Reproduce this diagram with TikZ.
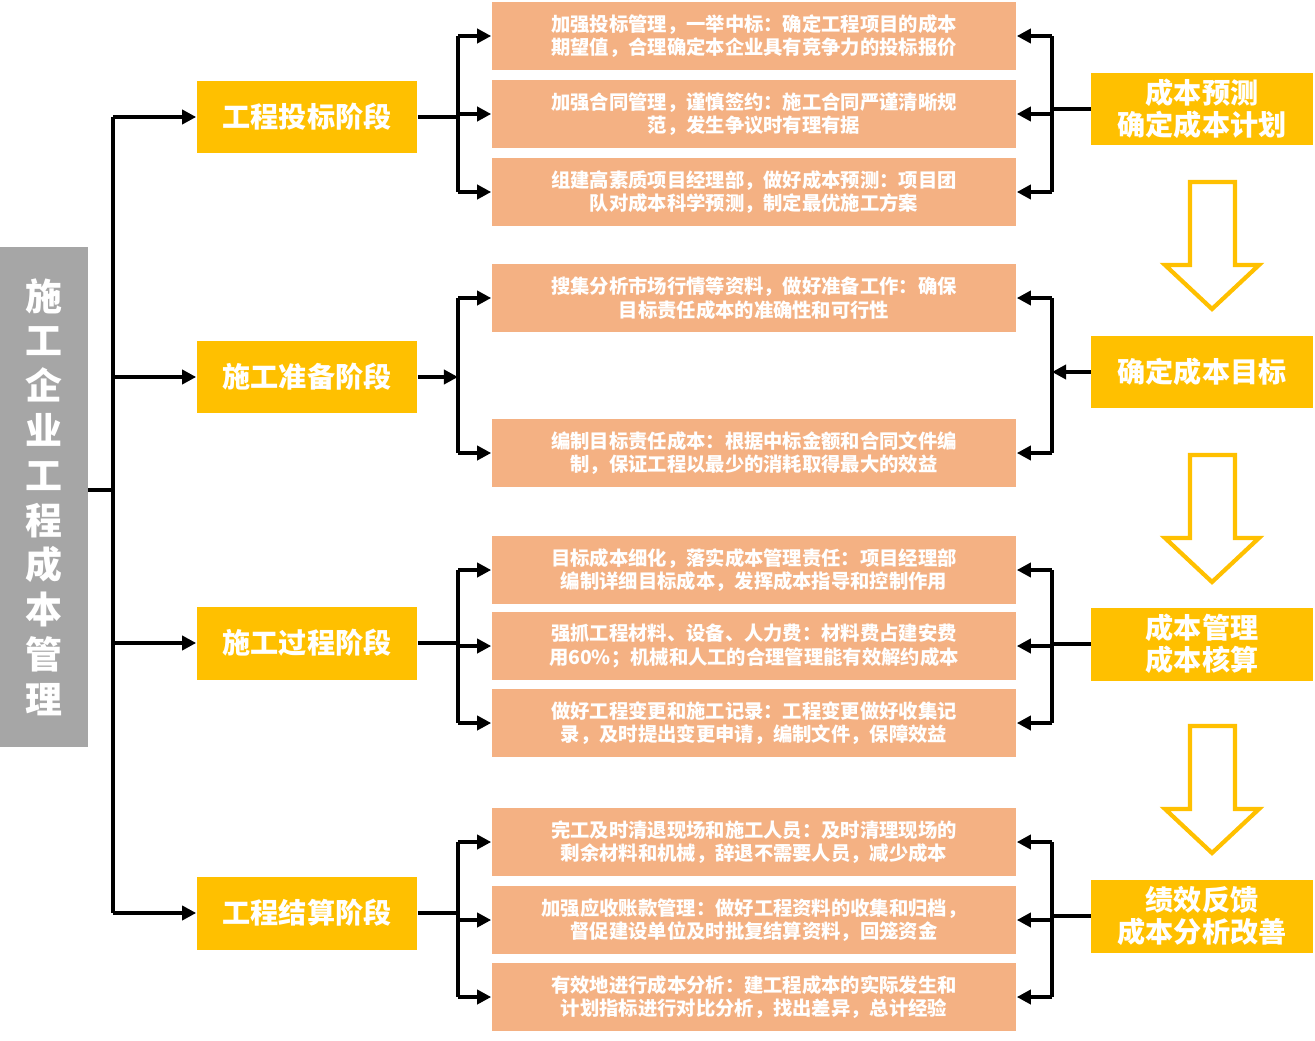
\documentclass[tikz,border=0pt]{standalone}
\usepackage{fontspec}
\setmainfont{Noto Sans CJK SC}
\usetikzlibrary{arrows.meta}
\definecolor{stagey}{HTML}{FFC000}
\definecolor{itemo}{HTML}{F4B183}
\definecolor{sidegray}{HTML}{A6A6A6}
\tikzset{
  stagebox/.style = {fill=stagey, text=white, minimum width=4.42cm, minimum height=1.46cm,
                     font=\fontsize{16}{19}\selectfont\bfseries},
  itembox/.style  = {fill=itemo, text=white, minimum width=10.5cm, minimum height=1.36cm,
                     align=center, font=\fontsize{11}{13.5}\selectfont\bfseries},
  goalbox/.style  = {fill=stagey, text=white, minimum width=4.44cm, minimum height=1.46cm,
                     align=center, font=\fontsize{16}{18.5}\selectfont\bfseries},
  link/.style     = {line width=2.2pt, black},
  arr/.style      = {link, -{Triangle[length=8pt,width=8pt]}},
  hollow/.style   = {line width=2.4pt, draw=stagey, line join=miter}
}
\begin{document}
\begin{tikzpicture}[x=0.02cm, y=-0.02cm]
  \useasboundingbox (0,0) rectangle (1315,1041);
  % the left title bar
  \node [fill=sidegray, text=white, minimum width=1.76cm, minimum height=10cm, align=center,
         font=\fontsize{21}{25.5}\selectfont\bfseries] (title) at (44,497)
        {施\\工\\企\\业\\工\\程\\成\\本\\管\\理};
  % the four stages
  \node [stagebox] (s1) at (307,117) {工程投标阶段};
  \node [stagebox] (s2) at (307,377) {施工准备阶段};
  \node [stagebox] (s3) at (307,643) {施工过程阶段};
  \node [stagebox] (s4) at (307,913) {工程结算阶段};
  % the measures
  \node [itembox] (a1) at (754,36)  {加强投标管理，一举中标：确定工程项目的成本\\期望值，合理确定本企业具有竞争力的投标报价};
  \node [itembox] (a2) at (754,114) {加强合同管理，谨慎签约：施工合同严谨清晰规\\范，发生争议时有理有据};
  \node [itembox] (a3) at (754,192) {组建高素质项目经理部，做好成本预测：项目团\\队对成本科学预测，制定最优施工方案};
  \node [itembox] (b1) at (754,298) {搜集分析市场行情等资料，做好准备工作：确保\\目标责任成本的准确性和可行性};
  \node [itembox] (b2) at (754,453) {编制目标责任成本：根据中标金额和合同文件编\\制，保证工程以最少的消耗取得最大的效益};
  \node [itembox] (c1) at (754,570) {目标成本细化，落实成本管理责任：项目经理部\\编制详细目标成本，发挥成本指导和控制作用};
  \node [itembox] (c2) at (754,646) {强抓工程材料、设备、人力费：材料费占建安费\\用60\%；机械和人工的合理管理能有效解约成本};
  \node [itembox] (c3) at (754,723) {做好工程变更和施工记录：工程变更做好收集记\\录，及时提出变更申请，编制文件，保障效益};
  \node [itembox] (d1) at (754,842) {完工及时清退现场和施工人员：及时清理现场的\\剩余材料和机械，辞退不需要人员，减少成本};
  \node [itembox] (d2) at (754,920) {加强应收账款管理：做好工程资料的收集和归档，\\督促建设单位及时批复结算资料，回笼资金};
  \node [itembox] (d3) at (754,997) {有效地进行成本分析：建工程成本的实际发生和\\计划指标进行对比分析，找出差异，总计经验};
  % the goals on the right
  \node [goalbox] (g1) at (1202,109) {成本预测\\确定成本计划};
  \node [goalbox] (g2) at (1202,372) {确定成本目标};
  \node [goalbox] (g3) at (1202,644) {成本管理\\成本核算};
  \node [goalbox] (g4) at (1202,916) {绩效反馈\\成本分析改善};
  % trunk
  \coordinate (trunk) at (113,0);
  \draw [link] (title.east |- 0,490) -- (trunk |- 0,490);
  \draw [link] (trunk |- s1.west) -- (trunk |- s4.west);
  \foreach \s in {s1,s2,s3,s4}
    \draw [arr] (trunk |- \s.west) -- (\s.west);
  % left brackets
  \coordinate (lb) at (458,0);
  \draw [link] (s1.east) -- (lb |- s1.east);
  \draw [link] (lb |- a1.west) -- (lb |- a3.west);
  \foreach \a in {a1,a2,a3} \draw [arr] (lb |- \a.west) -- (\a.west);
  \draw [arr] (s2.east) -- (lb |- s2.east);
  \draw [link] (lb |- b1.west) -- (lb |- b2.west);
  \foreach \a in {b1,b2} \draw [arr] (lb |- \a.west) -- (\a.west);
  \draw [link] (s3.east) -- (lb |- s3.east);
  \draw [link] (lb |- c1.west) -- (lb |- c3.west);
  \foreach \a in {c1,c2,c3} \draw [arr] (lb |- \a.west) -- (\a.west);
  \draw [link] (s4.east) -- (lb |- s4.east);
  \draw [link] (lb |- d1.west) -- (lb |- d3.west);
  \foreach \a in {d1,d2,d3} \draw [arr] (lb |- \a.west) -- (\a.west);
  % right brackets
  \coordinate (rb) at (1052,0);
  \draw [link] (g1.west) -- (rb |- g1.west);
  \draw [link] (rb |- a1.east) -- (rb |- a3.east);
  \foreach \a in {a1,a2,a3} \draw [arr] (rb |- \a.east) -- (\a.east);
  \draw [arr] (g2.west) -- (rb |- g2.west);
  \draw [link] (rb |- b1.east) -- (rb |- b2.east);
  \foreach \a in {b1,b2} \draw [arr] (rb |- \a.east) -- (\a.east);
  \draw [link] (g3.west) -- (rb |- g3.west);
  \draw [link] (rb |- c1.east) -- (rb |- c3.east);
  \foreach \a in {c1,c2,c3} \draw [arr] (rb |- \a.east) -- (\a.east);
  \draw [link] (g4.west) -- (rb |- g4.west);
  \draw [link] (rb |- d1.east) -- (rb |- d3.east);
  \foreach \a in {d1,d2,d3} \draw [arr] (rb |- \a.east) -- (\a.east);
  % hollow arrows between the goals
  \foreach \t in {182,455,726}
    \draw [hollow] (1190,\t) -- (1235,\t) -- (1235,\t+83) -- (1259,\t+83)
      -- (1212,\t+127) -- (1165,\t+83) -- (1190,\t+83) -- cycle;
\end{tikzpicture}
\end{document}
